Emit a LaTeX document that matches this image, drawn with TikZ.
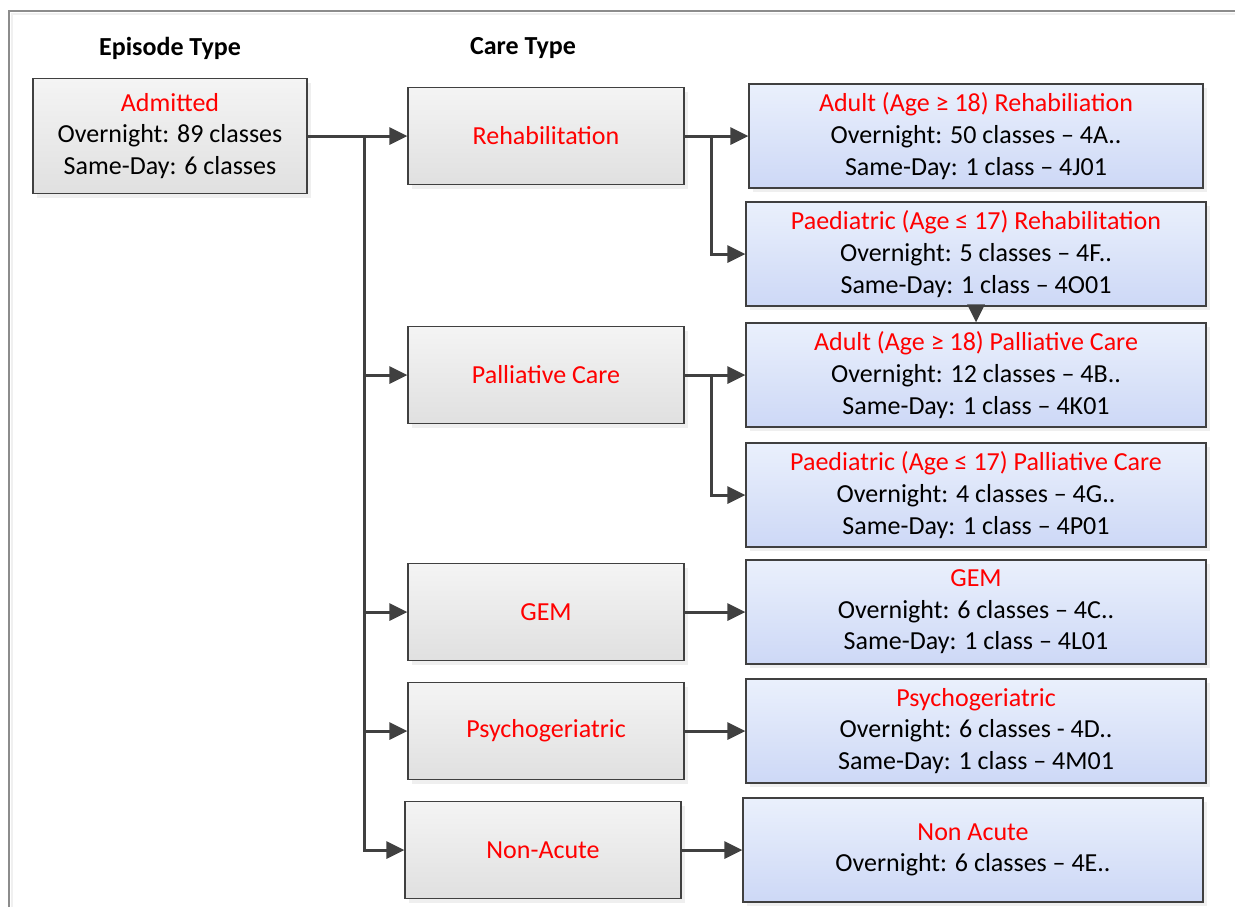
\documentclass[tikz,border=0pt]{standalone}
\usepackage{fontspec}
\setmainfont{Carlito}
\usetikzlibrary{arrows.meta,shadows}
\definecolor{boxline}{HTML}{404040}
\definecolor{conncol}{HTML}{404040}
\definecolor{gtop}{HTML}{F4F4F4}
\definecolor{gbot}{HTML}{E0E0E0}
\definecolor{btop}{HTML}{EAF0FC}
\definecolor{bbot}{HTML}{CDD8F6}
\definecolor{redtxt}{HTML}{FF0000}
\definecolor{framecol}{HTML}{8C8C8C}
\begin{document}
\begin{tikzpicture}[x=0.5pt,y=-0.5pt,
  basebox/.style={draw=boxline, line width=0.6pt, inner sep=0pt, align=center,
    font=\fontsize{13}{15.8}\selectfont,
    drop shadow={shadow xshift=2pt, shadow yshift=-2pt, fill=black!12, draw=none}},
  greybox/.style={basebox, top color=gtop, bottom color=gbot, minimum width=138pt, minimum height=48.5pt},
  bluebox/.style={basebox, top color=btop, bottom color=bbot, minimum width=230pt, minimum height=52pt},
  header/.style={font=\fontsize{13}{15}\selectfont\bfseries},
  conn/.style={draw=conncol, line width=1.5pt, -{Triangle[length=9pt,width=8.5pt]}},
  trunk/.style={draw=conncol, line width=1.5pt}
]
\useasboundingbox (0,0) rectangle (1235,907);
% frame
\draw[framecol, line width=0.8pt] (9,907) -- (9,11) -- (1235,11);
\draw[black!6, line width=0.8pt] (12,907) -- (12,14) -- (1235,14);

\node[header] (h1) at (170,48) {Episode Type};
\node[header] (h2) at (523,48) {Care Type};

\node[greybox, minimum width=137pt, minimum height=57.5pt] (adm) at (170,136)
  {\textcolor{redtxt}{Admitted}\\Overnight: 89 classes\\Same-Day: 6 classes};

\node[greybox] (reh) at (546,136) {\textcolor{redtxt}{Rehabilitation}};
\node[greybox] (pal) at (546,375) {\textcolor{redtxt}{Palliative Care}};
\node[greybox] (gem) at (546,612) {\textcolor{redtxt}{GEM}};
\node[greybox] (psy) at (546,731) {\textcolor{redtxt}{Psychogeriatric}};
\node[greybox] (nac) at (543,850) {\textcolor{redtxt}{Non-Acute}};

\node[bluebox, minimum width=227pt] (ar) at (976,136)
  {\textcolor{redtxt}{Adult (Age ≥ 18) Rehabiliation}\\Overnight: 50 classes – 4A..\\Same-Day: 1 class – 4J01};
\node[bluebox] (pr) at (976,254)
  {\textcolor{redtxt}{Paediatric (Age ≤ 17) Rehabilitation}\\Overnight: 5 classes – 4F..\\Same-Day: 1 class – 4O01};
\node[bluebox] (ap) at (976,375)
  {\textcolor{redtxt}{Adult (Age ≥ 18) Palliative Care}\\Overnight: 12 classes – 4B..\\Same-Day: 1 class – 4K01};
\node[bluebox] (pp) at (976,495)
  {\textcolor{redtxt}{Paediatric (Age ≤ 17) Palliative Care}\\Overnight: 4 classes – 4G..\\Same-Day: 1 class – 4P01};
\node[bluebox] (gr) at (976,612)
  {\textcolor{redtxt}{GEM}\\Overnight: 6 classes – 4C..\\Same-Day: 1 class – 4L01};
\node[bluebox] (sr) at (976,731)
  {\textcolor{redtxt}{Psychogeriatric}\\Overnight: 6 classes - 4D..\\Same-Day: 1 class – 4M01};
\node[bluebox] (nr) at (973,850)
  {\textcolor{redtxt}{Non Acute}\\Overnight: 6 classes – 4E..};

% left connectors
\coordinate (j1) at (364,136);
\draw[trunk] (j1) -- (364,850);
\draw[conn] (adm.east) -- (reh.west);
\draw[conn] (j1) |- (pal.west);
\draw[conn] (j1) |- (gem.west);
\draw[conn] (j1) |- (psy.west);
\draw[conn] (j1) |- (nac.west);

% right connectors
\coordinate (j2) at (711,136);
\coordinate (j3) at (711,375);
\draw[conn] (reh.east) -- (ar.west);
\draw[conn] (j2) |- (pr.west);
\draw[conn] (pal.east) -- (ap.west);
\draw[conn] (j3) |- (pp.west);
\draw[conn] (gem.east) -- (gr.west);
\draw[conn] (psy.east) -- (sr.west);
\draw[conn] (nac.east) -- (nr.west);
\draw[conn] (pr.south) -- (ap.north);
\end{tikzpicture}
\end{document}
